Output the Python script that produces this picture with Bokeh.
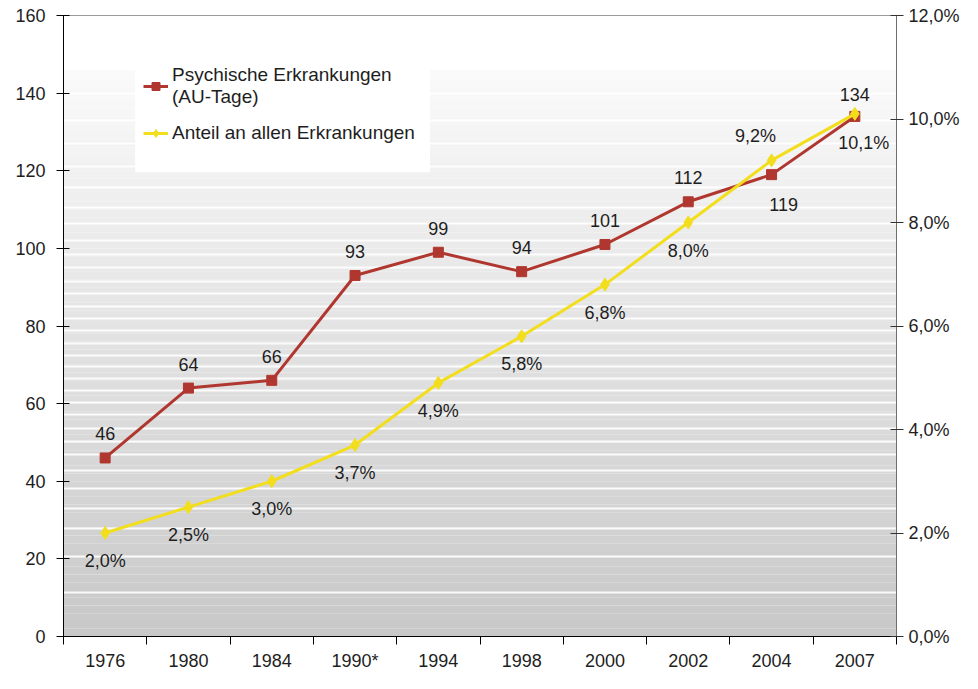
from bokeh.plotting import figure
from bokeh.models import Range1d, LinearAxis, FixedTicker, Legend, LegendItem
from bokeh.core.properties import value
from bokeh.embed import file_html
from bokeh.resources import INLINE

# ---- data ----
years = ["1976", "1980", "1984", "1990*", "1994", "1998", "2000", "2002", "2004", "2007"]
au_tage = [46, 64, 66, 93, 99, 94, 101, 112, 119, 134]
anteil = [2.0, 2.5, 3.0, 3.7, 4.9, 5.8, 6.8, 8.0, 9.2, 10.1]
anteil_labels = ["2,0%", "2,5%", "3,0%", "3,7%", "4,9%", "5,8%", "6,8%", "8,0%", "9,2%", "10,1%"]
left_ticks = [0, 20, 40, 60, 80, 100, 120, 140, 160]
right_ticks = [0, 2, 4, 6, 8, 10, 12]
right_tick_labels = ["0,0%", "2,0%", "4,0%", "6,0%", "8,0%", "10,0%", "12,0%"]

# decorative background stripes (left-axis units)
stripes = [11.4, 20.5, 27.8, 33.1, 38.2, 42.7, 46.8, 50.3, 53.6, 57.1, 60.4, 63.5,
           66.5, 69.5, 72.5, 75.6, 78.9, 81.9, 84.9, 88.5, 91.5, 95.0, 98.5, 102.1,
           106.4, 110.5, 115.8, 121.0, 127.0, 133.0, 140.0]

FONT = "Liberation Sans"
TXT = "#1e1e1e"
RED = "#b0372f"
YEL = "#f2de1c"

n = len(years)
x = [i + 0.5 for i in range(n)]
bounds = [i for i in range(n + 1)]

p = figure(width=962, height=673, x_range=Range1d(0, n), y_range=Range1d(0, 160),
           output_backend="svg", toolbar_location=None,
           min_border_left=63, min_border_right=64, min_border_top=15, min_border_bottom=28)
p.extra_y_ranges = {"pct": Range1d(0, 12)}
p.xgrid.visible = False
p.ygrid.visible = False
p.outline_line_color = "#9a9a9a"
p.background_fill_color = "white"
p.border_fill_color = "white"

# gradient background
step = 2
g_bottom = [i * step for i in range(73)]
g_top = [b + step for b in g_bottom]
g_cols = []
for b in g_bottom:
    t = (b + step / 2) / 146.0
    v = int(round(200 + 50 * t))
    g_cols.append("#%02x%02x%02x" % (v, v, v))
p.quad(left=0, right=n, bottom=g_bottom, top=g_top, fill_color=g_cols, line_color=None)
p.hspan(y=stripes, line_color="white", line_width=2, line_alpha=0.9)

# white legend panel
p.quad(left=[0.86], right=[4.4], bottom=[119.6], top=[152], fill_color="white", line_color=None)

# series
r_line = p.line(x, au_tage, line_color=RED, line_width=3)
r_pts = p.scatter(x, au_tage, marker="square", size=10, fill_color=RED, line_color=RED)
y_line = p.line(x, anteil, y_range_name="pct", line_color=YEL, line_width=3)
y_pts = p.scatter(x, anteil, y_range_name="pct", marker="diamond", size=13,
                  fill_color=YEL, line_color=YEL)

# value labels
r_xoff = [0] * n
r_yoff = [-24] * n
r_xoff[8] = 12
r_yoff[8] = 30
r_yoff[9] = -22
p.text(x=x, y=au_tage, text=[str(v) for v in au_tage], x_offset=r_xoff, y_offset=r_yoff,
       text_align="center", text_baseline="middle", text_font=value(FONT),
       text_font_size="18px", text_color=TXT)

y_xoff = [0] * n
y_yoff = [28] * n
y_xoff[8] = -16
y_yoff[8] = -24
y_xoff[9] = 9
y_yoff[9] = 29
p.text(x=x, y=anteil, y_range_name="pct", text=anteil_labels, x_offset=y_xoff, y_offset=y_yoff,
       text_align="center", text_baseline="middle", text_font=value(FONT),
       text_font_size="18px", text_color=TXT)

# axes
ya = p.yaxis[0]
ya.ticker = FixedTicker(ticks=left_ticks)
ya.axis_line_color = "black"
ya.major_tick_line_color = "black"
ya.major_tick_in = 6
ya.major_tick_out = 7
ya.minor_tick_line_color = None
ya.major_label_text_font = FONT
ya.major_label_text_font_size = "18px"
ya.major_label_text_color = TXT
ya.major_label_standoff = 11

ra = LinearAxis(y_range_name="pct", ticker=FixedTicker(ticks=right_ticks),
                major_label_overrides={t: l for t, l in zip(right_ticks, right_tick_labels)})
ra.axis_line_color = "#6e6e6e"
ra.major_tick_line_color = "#333333"
ra.major_tick_in = 6
ra.major_tick_out = 7
ra.minor_tick_line_color = None
ra.major_label_text_font = FONT
ra.major_label_text_font_size = "18px"
ra.major_label_text_color = TXT
ra.major_label_standoff = 5
p.add_layout(ra, "right")

xa = p.xaxis[0]
xa.ticker = FixedTicker(ticks=x, minor_ticks=bounds)
xa.major_label_overrides = {xi: yl for xi, yl in zip(x, years)}
xa.axis_line_color = "black"
xa.major_tick_line_color = None
xa.major_tick_in = 0
xa.major_tick_out = 0
xa.minor_tick_line_color = "black"
xa.minor_tick_in = 0
xa.minor_tick_out = 8
xa.major_label_text_font = FONT
xa.major_label_text_font_size = "18px"
xa.major_label_text_color = TXT
xa.major_label_standoff = 6

legend = Legend(items=[LegendItem(label="Psychische Erkrankungen\n(AU-Tage)", renderers=[r_line, r_pts]),
                       LegendItem(label="Anteil an allen Erkrankungen", renderers=[y_line, y_pts])],
                location=(80, 492), orientation="vertical")
legend.background_fill_alpha = 0
legend.border_line_color = None
legend.label_text_font = FONT
legend.label_text_font_size = "19px"
legend.label_text_color = TXT
legend.label_text_line_height = 1.3
legend.glyph_width = 25
legend.glyph_height = 20
legend.label_standoff = 4
legend.padding = 8
legend.spacing = 14
legend.margin = 0
p.add_layout(legend, "center")

open("out.html", "w").write(file_html(p, INLINE))
